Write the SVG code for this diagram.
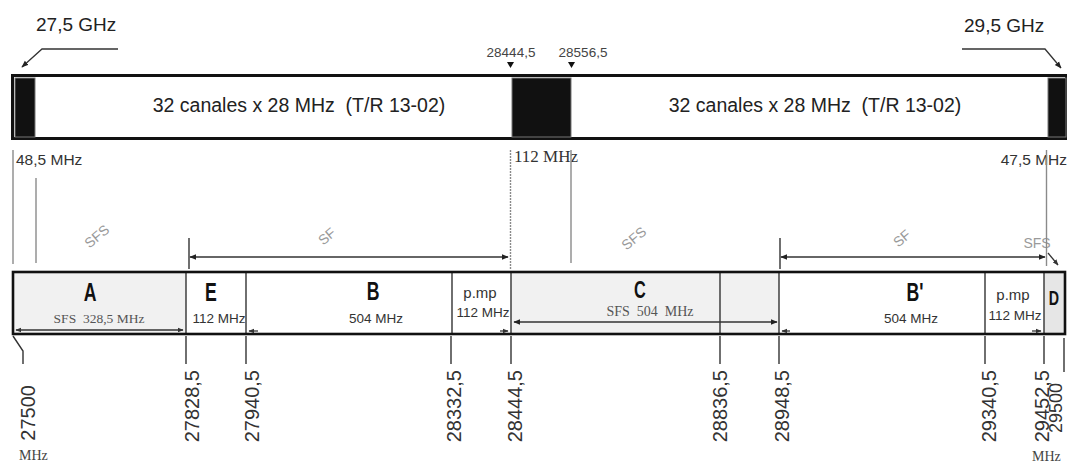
<svg xmlns="http://www.w3.org/2000/svg" width="1067" height="463" viewBox="0 0 1067 463">
<defs>
<marker id="ah" viewBox="0 0 10 10" refX="9" refY="5" markerWidth="7" markerHeight="7" orient="auto-start-reverse" markerUnits="userSpaceOnUse"><path d="M0,1 L10,5 L0,9 z" fill="#222"/></marker>
<marker id="ahs" viewBox="0 0 10 10" refX="9" refY="5" markerWidth="6" markerHeight="6" orient="auto-start-reverse" markerUnits="userSpaceOnUse"><path d="M0,1 L10,5 L0,9 z" fill="#333"/></marker>
<style>
.sans{font-family:"Liberation Sans",Arial,sans-serif}
.serif{font-family:"Liberation Serif","Times New Roman",serif}
.big{font-family:"Liberation Sans",Arial,sans-serif;font-weight:bold;font-size:26px;fill:#111;text-anchor:middle}
.rot{font-family:"Liberation Sans",Arial,sans-serif;font-size:20px;fill:#333;text-anchor:end}
.sfs{font-family:"Liberation Sans",Arial,sans-serif;font-size:14px;fill:#9a9a9a;text-anchor:middle}
.vl{stroke:#8a8a8a;stroke-width:1.4;fill:none}
.tick{stroke:#333;stroke-width:1.4;fill:none}
.conn{stroke:#333;stroke-width:1.3;fill:none}
.div{stroke:#333;stroke-width:1.4}
</style>
</defs>

<!-- top band -->
<g id="top-band">
<rect x="12.5" y="75.5" width="1054" height="63" fill="#fff" stroke="#111" stroke-width="3"/>
<rect x="15" y="78" width="20" height="59" fill="#111" stroke="#777" stroke-width="1"/>
<rect x="512" y="78" width="59" height="59" fill="#111" stroke="#777" stroke-width="1"/>
<rect x="1048" y="78" width="18" height="59" fill="#111" stroke="#777" stroke-width="1"/>
<text class="sans" x="299" y="112" font-size="19.5" fill="#222" text-anchor="middle" xml:space="preserve">32 canales x 28 MHz  (T/R 13-02)</text>
<text class="sans" x="815" y="112" font-size="19.5" fill="#222" text-anchor="middle" xml:space="preserve">32 canales x 28 MHz  (T/R 13-02)</text>
</g>

<g id="label-27-5">
<text class="sans" x="36" y="31" font-size="19" fill="#222">27,5 GHz</text>
</g>
<g id="label-29-5">
<text class="sans" x="964" y="32" font-size="19" fill="#222">29,5 GHz</text>
</g>
<g id="marker-28444">
<text class="sans" x="511" y="57" font-size="13.5" fill="#444" text-anchor="middle">28444,5</text>
<path d="M507,62 L514,62 L510.5,68 z" fill="#111"/>
</g>
<g id="marker-28556">
<text class="sans" x="583" y="57" font-size="13.5" fill="#444" text-anchor="middle">28556,5</text>
<path d="M568,62 L575,62 L571.5,68 z" fill="#111"/>
</g>

<g id="guard-labels">
<text class="sans" x="16" y="165" font-size="15.5" fill="#333">48,5 MHz</text>
<text class="serif" x="514" y="162" font-size="17" fill="#333">112 MHz</text>
<text class="sans" x="1067" y="165" font-size="15.5" fill="#333" text-anchor="end">47,5 MHz</text>
</g>

<g id="sfs-labels">
<text class="sfs" transform="translate(100,240) rotate(-40)">SFS</text>
<text class="sfs" transform="translate(330,240) rotate(-40)">SF</text>
<text class="sfs" transform="translate(637,242) rotate(-40)">SFS</text>
<text class="sfs" transform="translate(905,242) rotate(-40)">SF</text>
<text class="sfs" x="1037" y="248" font-size="15">SFS</text>
</g>

<!-- bottom band -->
<g id="bottom-band">
<rect x="13" y="272" width="173" height="62" fill="#f1f1f1"/>
<rect x="511" y="272" width="268" height="62" fill="#f1f1f1"/>
<rect x="1044" y="272" width="22" height="62" fill="#e6e6e6"/>
<line class="div" x1="186" y1="272" x2="186" y2="334"/>
<line class="div" x1="246" y1="272" x2="246" y2="334"/>
<line class="div" x1="452" y1="272" x2="452" y2="334"/>
<line class="div" x1="511" y1="272" x2="511" y2="334"/>
<line class="div" x1="720" y1="272" x2="720" y2="334"/>
<line class="div" x1="779" y1="272" x2="779" y2="334"/>
<line class="div" x1="985" y1="272" x2="985" y2="334"/>
<line class="div" x1="1044" y1="272" x2="1044" y2="334"/>
<rect x="13" y="272" width="1052" height="62" fill="none" stroke="#111" stroke-width="2.6"/>
</g>

<g id="seg-A">
<text class="big" transform="translate(90,301) scale(0.68,1)">A</text>
<text class="serif" x="99" y="323" font-size="13.5" fill="#555" text-anchor="middle" xml:space="preserve">SFS  328,5 MHz</text>
</g>
<g id="seg-E">
<text class="big" transform="translate(211,301) scale(0.68,1)">E</text>
<text class="sans" x="219" y="323" font-size="13.5" fill="#333" text-anchor="middle">112 MHz</text>
</g>
<g id="seg-B">
<text class="big" transform="translate(373,300) scale(0.68,1)">B</text>
<text class="sans" x="376" y="323" font-size="13.5" fill="#333" text-anchor="middle">504 MHz</text>
</g>
<g id="seg-pmp1">
<text class="sans" x="480" y="298" font-size="15" fill="#333" text-anchor="middle">p.mp</text>
<text class="sans" x="483" y="317" font-size="13.5" fill="#333" text-anchor="middle">112 MHz</text>
</g>
<g id="seg-C">
<text class="big" transform="translate(640,298) scale(0.68,1)" style="font-size:24px">C</text>
<text class="serif" x="650" y="316" font-size="14" fill="#555" text-anchor="middle" xml:space="preserve">SFS  504  MHz</text>
</g>
<g id="seg-B2">
<text class="big" transform="translate(915,301) scale(0.68,1)">B'</text>
<text class="sans" x="911" y="323" font-size="13.5" fill="#333" text-anchor="middle">504 MHz</text>
</g>
<g id="seg-pmp2">
<text class="sans" x="1013" y="300" font-size="15" fill="#333" text-anchor="middle">p.mp</text>
<text class="sans" x="1015" y="320" font-size="13.5" fill="#333" text-anchor="middle">112 MHz</text>
</g>
<g id="seg-D">
<text class="big" transform="translate(1054,305) scale(0.68,1)" style="font-size:21px">D</text>
</g>

<!-- frequency labels -->
<g id="freq-labels">
<text class="rot" transform="translate(35,385) rotate(-90)">27500</text>
<text class="serif" x="19" y="460" font-size="14" fill="#444">MHz</text>
<text class="rot" transform="translate(199,370) rotate(-90)">27828,5</text>
<text class="rot" transform="translate(259,370) rotate(-90)">27940,5</text>
<text class="rot" transform="translate(461,370) rotate(-90)">28332,5</text>
<text class="rot" transform="translate(522,370) rotate(-90)">28444,5</text>
<text class="rot" transform="translate(727,370) rotate(-90)">28836,5</text>
<text class="rot" transform="translate(789,370) rotate(-90)">28948,5</text>
<text class="rot" transform="translate(996,370) rotate(-90)">29340,5</text>
<text class="rot" transform="translate(1049,370) rotate(-90)">29452,5</text>
<text class="rot" transform="translate(1062,383) rotate(-90)" style="font-size:18px">29500</text>
<text class="serif" x="1032" y="461" font-size="14" fill="#444">MHz</text>
</g>

<!-- connectors -->
<g id="connectors">
<polyline class="conn" points="118,49 42,49 22,67" marker-end="url(#ah)"/>
<polyline class="conn" points="962,49 1045,49 1061,68" marker-end="url(#ah)"/>
<line class="vl" x1="13" y1="150" x2="13" y2="264"/>
<line class="vl" x1="36" y1="178" x2="36" y2="263"/>
<line class="vl" x1="510.5" y1="150" x2="510.5" y2="270" stroke-dasharray="2,1"/>
<line class="vl" x1="571" y1="150" x2="571" y2="263"/>
<line class="vl" x1="1046.5" y1="150" x2="1046.5" y2="266"/>
<line class="tick" x1="189" y1="238" x2="189" y2="269"/>
<line class="conn" x1="190" y1="257" x2="508" y2="257" marker-start="url(#ah)" marker-end="url(#ah)" stroke="#555"/>
<line class="tick" x1="780" y1="238" x2="780" y2="269"/>
<line class="conn" x1="781" y1="257" x2="1045" y2="257" marker-start="url(#ah)" marker-end="url(#ah)" stroke="#555"/>
<line class="conn" x1="1048" y1="253" x2="1058" y2="265" marker-end="url(#ahs)"/>
<line class="conn" x1="16" y1="330" x2="183" y2="330" stroke="#888" marker-start="url(#ahs)" marker-end="url(#ahs)"/>
<line class="conn" x1="249" y1="331" x2="258" y2="331" stroke="#888" marker-start="url(#ahs)"/>
<line class="conn" x1="500" y1="331" x2="508" y2="331" stroke="#888" marker-end="url(#ahs)"/>
<line class="conn" x1="514" y1="322" x2="777" y2="322" stroke="#999" stroke-width="2" marker-start="url(#ah)" marker-end="url(#ah)"/>
<line class="conn" x1="782" y1="331" x2="790" y2="331" stroke="#888" marker-start="url(#ahs)"/>
<line class="conn" x1="1032" y1="331" x2="1041" y2="331" stroke="#888" marker-end="url(#ahs)"/>
<polyline class="tick" points="13,336 23,351 23,364"/>
<line class="tick" x1="186" y1="336" x2="186" y2="364"/>
<line class="tick" x1="246" y1="336" x2="246" y2="364"/>
<line class="tick" x1="451" y1="336" x2="451" y2="364"/>
<line class="tick" x1="511" y1="336" x2="511" y2="364"/>
<line class="tick" x1="720" y1="336" x2="720" y2="364"/>
<line class="tick" x1="779" y1="336" x2="779" y2="364"/>
<line class="tick" x1="985" y1="336" x2="985" y2="364"/>
<line class="tick" x1="1044" y1="336" x2="1044" y2="364"/>
<line class="tick" x1="1064" y1="338" x2="1064" y2="372"/>
</g>
</svg>
